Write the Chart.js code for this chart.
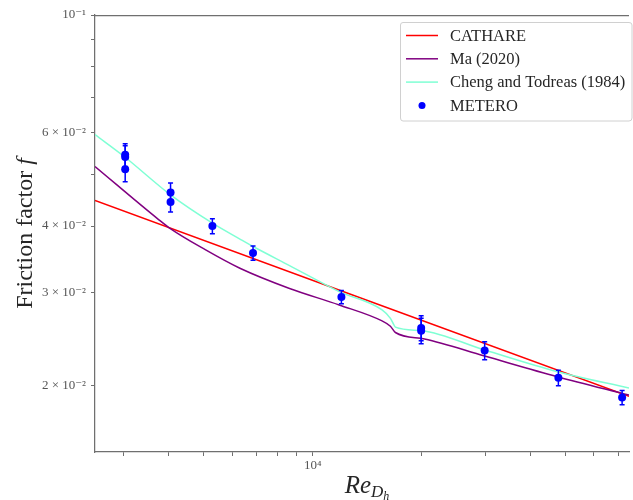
<!DOCTYPE html>
<html><head><meta charset="utf-8">
<script src="https://cdn.jsdelivr.net/npm/chart.js@4.4.1/dist/chart.umd.min.js"></script>
<style>html,body{margin:0;padding:0;background:#fff}#wrap{width:633px;height:500px;position:relative}</style>
</head><body><div id="wrap"><canvas id="c"></canvas></div>
<script>
// ---- data ----
const reCathare = [2500, 14310, 75000];
const fCathare  = [0.0447, 0.0289, 0.0191];

const reMa = [2500, 3756, 4030, 5045, 6292, 8632, 11840, 15560, 16410, 16940, 20400, 29910, 47530, 75000];
const fMa  = [0.0518, 0.0411, 0.0396, 0.0361, 0.0333, 0.0305, 0.0284, 0.0265, 0.0259, 0.0252, 0.0245, 0.02275, 0.0208, 0.0192];

const reCheng = [2500, 3011, 4045, 5283, 6292, 6843, 8632, 11840, 15560, 16410, 16750, 16940, 20040, 29910, 47530, 75000];
const fCheng  = [0.0595, 0.0541, 0.0458, 0.0405, 0.0378, 0.0366, 0.0337, 0.0301, 0.0278, 0.0268, 0.0261, 0.0258, 0.0254, 0.02335, 0.02125, 0.0198];

const reMetero  = [3030, 3030, 3030, 4045, 4045, 5280, 6840, 12010, 19960, 19960, 29910, 47830, 71780];
const fMetero   = [0.0545, 0.0540, 0.0512, 0.0463, 0.0444, 0.0400, 0.0356, 0.0294, 0.0257, 0.0254, 0.0233, 0.0207, 0.0190];
const errMetero = [0.0027, 0.0027, 0.0027, 0.0019, 0.0019, 0.0013, 0.0011, 0.00085, 0.0014, 0.0014, 0.0009, 0.0007, 0.00058];

const seriesLabels = ['CATHARE', 'Ma (2020)', 'Cheng and Todreas (1984)', 'METERO'];

const xTickValues = [3000, 4000, 5000, 6000, 7000, 8000, 9000, 10000, 20000, 30000, 40000, 50000, 60000, 70000];
const xTickLabels = ['', '', '', '', '', '', '', '10⁴', '', '', '', '', '', ''];
const yTickValues = [0.02, 0.03, 0.04, 0.05, 0.06, 0.07, 0.08, 0.09, 0.1];
const yTickLabels = ['2 × 10⁻²', '3 × 10⁻²', '4 × 10⁻²', '', '6 × 10⁻²', '', '', '', '10⁻¹'];

const xTitle = ['Re', 'D', 'h'];
const yTitle = ['Friction factor ', 'f'];

// ---- helpers ----
const pts = (xs, ys) => xs.map((x, i) => ({x: x, y: ys[i]}));
const SERIF = '"Liberation Serif", "DejaVu Serif", serif';
const AXIS = '#6f6f6f';

const framePlugin = {
  id: 'frame',
  afterDraw(chart) {
    const {ctx, chartArea: a} = chart;
    ctx.save();
    ctx.strokeStyle = AXIS; ctx.lineWidth = 1.25;
    ctx.beginPath(); ctx.moveTo(a.left, a.top + 0.5); ctx.lineTo(a.right, a.top + 0.5); ctx.stroke();
    ctx.restore();
  }
};

const errorBarPlugin = {
  id: 'errorbars',
  afterDatasetsDraw(chart) {
    const idx = 3;
    const meta = chart.getDatasetMeta(idx);
    if (meta.hidden) return;
    const xs = chart.scales.x, ys = chart.scales.y, ctx = chart.ctx;
    ctx.save();
    ctx.strokeStyle = '#0000ff'; ctx.lineWidth = 1.5;
    reMetero.forEach((re, i) => {
      const px = xs.getPixelForValue(re);
      const top = ys.getPixelForValue(fMetero[i] + errMetero[i]);
      const bot = ys.getPixelForValue(fMetero[i] - errMetero[i]);
      ctx.beginPath();
      ctx.moveTo(px, top); ctx.lineTo(px, bot);
      ctx.moveTo(px - 2.5, top); ctx.lineTo(px + 2.5, top);
      ctx.moveTo(px - 2.5, bot); ctx.lineTo(px + 2.5, bot);
      ctx.stroke();
    });
    ctx.restore();
  }
};

const titlePlugin = {
  id: 'titles',
  afterDraw(chart) {
    const {ctx, chartArea: a} = chart;
    ctx.save();
    ctx.fillStyle = '#262626';
    ctx.textBaseline = 'alphabetic';
    // y title
    ctx.save();
    ctx.translate(32, (a.top + a.bottom) / 2);
    ctx.rotate(-Math.PI / 2);
    ctx.font = '24px ' + SERIF;
    const w1 = ctx.measureText(yTitle[0]).width;
    ctx.font = 'italic 24px ' + SERIF;
    const w2 = ctx.measureText(yTitle[1]).width;
    let x0 = -(w1 + w2) / 2;
    ctx.font = '24px ' + SERIF;
    ctx.fillText(yTitle[0], x0, 0);
    ctx.font = 'italic 24px ' + SERIF;
    ctx.fillText(yTitle[1], x0 + w1, 0);
    ctx.restore();
    // x title
    const base = 493;
    ctx.font = 'italic 25px ' + SERIF; const wa = ctx.measureText(xTitle[0]).width;
    ctx.font = 'italic 17px ' + SERIF; const wb = ctx.measureText(xTitle[1]).width;
    ctx.font = 'italic 12px ' + SERIF; const wc = ctx.measureText(xTitle[2]).width;
    let xs = 367 - (wa + wb + wc) / 2;
    ctx.font = 'italic 25px ' + SERIF; ctx.fillText(xTitle[0], xs, base);
    ctx.font = 'italic 17px ' + SERIF; ctx.fillText(xTitle[1], xs + wa, base + 4);
    ctx.font = 'italic 12px ' + SERIF; ctx.fillText(xTitle[2], xs + wa + wb, base + 7);
    ctx.restore();
  }
};

const legendPlugin = {
  id: 'boxlegend',
  afterDraw(chart) {
    const ctx = chart.ctx;
    const bx = 400, by = 22, bw = 232, bh = 99, r = 3;
    ctx.save();
    ctx.fillStyle = 'rgba(255,255,255,0.85)';
    ctx.strokeStyle = '#d0d0d0'; ctx.lineWidth = 1;
    ctx.beginPath();
    ctx.moveTo(bx + r, by + 0.5); ctx.lineTo(bx + bw - r, by + 0.5);
    ctx.quadraticCurveTo(bx + bw, by + 0.5, bx + bw, by + r);
    ctx.lineTo(bx + bw, by + bh - r);
    ctx.quadraticCurveTo(bx + bw, by + bh, bx + bw - r, by + bh);
    ctx.lineTo(bx + r, by + bh);
    ctx.quadraticCurveTo(bx + 0.5, by + bh, bx + 0.5, by + bh - r);
    ctx.lineTo(bx + 0.5, by + r);
    ctx.quadraticCurveTo(bx + 0.5, by + 0.5, bx + r, by + 0.5);
    ctx.closePath(); ctx.fill(); ctx.stroke();
    const rows = [35.5, 58.8, 82.1, 105.4];
    chart.data.datasets.forEach((ds, i) => {
      const y = rows[i];
      if (i < 3) {
        ctx.strokeStyle = ds.borderColor; ctx.lineWidth = 1.5;
        ctx.beginPath(); ctx.moveTo(406, y); ctx.lineTo(438, y); ctx.stroke();
      } else {
        ctx.fillStyle = ds.backgroundColor;
        ctx.beginPath(); ctx.arc(422, y, 3.5, 0, Math.PI * 2); ctx.fill();
      }
      ctx.fillStyle = '#262626';
      ctx.font = '16.5px ' + SERIF;
      ctx.textBaseline = 'middle';
      ctx.fillText(ds.label, 450, y + 1);
    });
    ctx.restore();
  }
};

new Chart(document.getElementById('c'), {
  type: 'scatter',
  data: {
    datasets: [
      {label: seriesLabels[0], data: pts(reCathare, fCathare), showLine: true, borderColor: '#ff0000', backgroundColor: '#ff0000', borderWidth: 1.5, pointRadius: 0, order: 4},
      {label: seriesLabels[1], data: pts(reMa, fMa), showLine: true, borderColor: '#800080', backgroundColor: '#800080', borderWidth: 1.5, pointRadius: 0, cubicInterpolationMode: 'monotone', order: 3},
      {label: seriesLabels[2], data: pts(reCheng, fCheng), showLine: true, borderColor: '#7fffd4', backgroundColor: '#7fffd4', borderWidth: 1.5, pointRadius: 0, cubicInterpolationMode: 'monotone', order: 2},
      {label: seriesLabels[3], data: pts(reMetero, fMetero), showLine: false, borderColor: '#0000ff', backgroundColor: '#0000ff', borderWidth: 0, pointRadius: 4, order: 1}
    ]
  },
  options: {
    responsive: true, maintainAspectRatio: false, animation: false,
    layout: {padding: {top: 15, right: 0, left: 0, bottom: 0}},
    plugins: {legend: {display: false}, tooltip: {enabled: false}},
    scales: {
      x: {
        type: 'logarithmic', min: 2500, max: 75000,
        afterBuildTicks: s => { s.ticks = xTickValues.map(v => ({value: v})); },
        afterFit: s => { s.height = 48; },
        ticks: {autoSkip: false, maxRotation: 0, minRotation: 0, padding: 2, color: '#555', font: {family: SERIF, size: 13},
                callback: (v, i) => xTickLabels[i]},
        grid: {drawOnChartArea: false, drawTicks: true, tickLength: 4, tickColor: AXIS, tickWidth: 1},
        border: {display: true, color: AXIS, width: 1.25}
      },
      y: {
        type: 'logarithmic', min: 0.015, max: 0.1,
        afterBuildTicks: s => { s.ticks = yTickValues.map(v => ({value: v})); },
        afterFit: s => { s.width = 95; },
        ticks: {autoSkip: false, padding: 5, color: '#555', font: {family: SERIF, size: 13},
                callback: (v, i) => yTickLabels[i]},
        grid: {drawOnChartArea: false, drawTicks: true, tickLength: 4, tickColor: AXIS, tickWidth: 1},
        border: {display: true, color: AXIS, width: 1.25}
      }
    }
  },
  plugins: [errorBarPlugin, framePlugin, titlePlugin, legendPlugin]
});
</script></body></html>
